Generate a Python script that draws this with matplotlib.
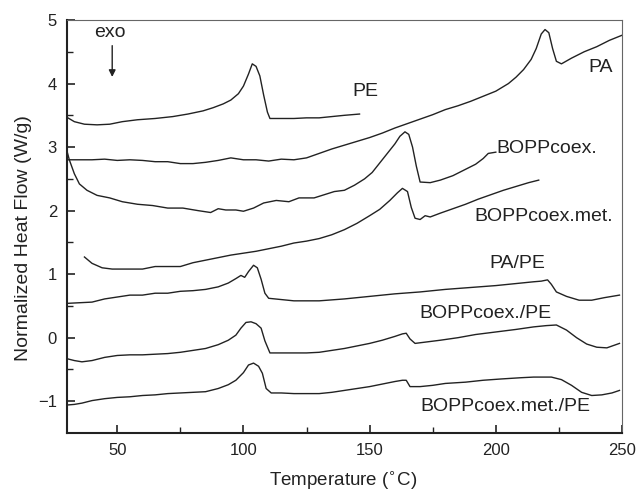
import numpy as np
import matplotlib.pyplot as plt

plt.rcParams['font.family'] = ['Liberation Sans', 'DejaVu Sans']

# DSC traces (temperature in C, heat flow in W/g)
pe_T = [30, 33, 37, 42, 47, 52, 58, 65, 72, 78, 84, 88, 92, 95, 98, 100, 102, 103.5, 105, 106.5, 108, 109.5, 110.5, 115, 120, 125, 130, 135, 140, 146]
pe_y = [3.47, 3.40, 3.36, 3.35, 3.36, 3.40, 3.43, 3.45, 3.48, 3.52, 3.57, 3.62, 3.68, 3.74, 3.84, 3.96, 4.15, 4.31, 4.27, 4.12, 3.82, 3.55, 3.45, 3.45, 3.45, 3.46, 3.46, 3.48, 3.50, 3.52]

pa_T = [30, 35, 40, 45, 50, 55, 60, 65, 70, 75, 80, 85, 90, 95, 100, 105, 110, 115, 120, 125, 130, 135, 140, 145, 150, 155, 160, 165, 170, 175, 180, 185, 190, 195, 200, 205, 208, 211, 214, 216, 218, 219.5, 221, 222.5, 224, 226, 230, 235, 240, 245, 250]
pa_y = [2.80, 2.80, 2.80, 2.81, 2.79, 2.80, 2.79, 2.77, 2.77, 2.74, 2.74, 2.76, 2.79, 2.83, 2.80, 2.80, 2.78, 2.81, 2.80, 2.83, 2.90, 2.97, 3.03, 3.09, 3.15, 3.22, 3.30, 3.37, 3.44, 3.51, 3.59, 3.65, 3.72, 3.80, 3.88, 4.00, 4.10, 4.22, 4.38, 4.55, 4.78, 4.85, 4.80, 4.55, 4.35, 4.31, 4.40, 4.50, 4.58, 4.68, 4.76]

bopp_T = [30, 31, 33, 35, 38, 42, 47, 52, 58, 64, 70, 76, 82, 87, 90, 93, 97, 100, 104, 108, 113, 118, 122, 128, 132, 136, 140, 144, 148, 151, 154, 157, 160, 162, 164, 165.5, 167, 168.5, 170, 174, 178, 183, 188, 192, 195, 197, 200]
bopp_y = [2.95, 2.80, 2.58, 2.42, 2.32, 2.24, 2.20, 2.14, 2.10, 2.08, 2.04, 2.04, 2.00, 1.97, 2.03, 2.01, 2.01, 1.99, 2.04, 2.12, 2.16, 2.14, 2.20, 2.20, 2.25, 2.30, 2.32, 2.40, 2.50, 2.60, 2.75, 2.90, 3.05, 3.17, 3.24, 3.20, 3.00, 2.70, 2.45, 2.44, 2.48, 2.55, 2.65, 2.73, 2.82, 2.90, 2.92]

met_T = [37, 40, 44, 48, 55, 60, 65, 70, 75, 80, 85, 90, 95, 100, 105, 110, 115, 120, 125, 130, 135, 140, 145, 150, 154, 158, 161, 163, 165, 166.5, 168, 170, 172, 174, 178, 183, 188, 193, 198, 203, 208, 213, 217]
met_y = [1.27, 1.17, 1.10, 1.08, 1.08, 1.08, 1.12, 1.12, 1.12, 1.18, 1.22, 1.26, 1.30, 1.33, 1.36, 1.40, 1.44, 1.49, 1.52, 1.56, 1.62, 1.70, 1.80, 1.92, 2.02, 2.16, 2.28, 2.35, 2.30, 2.05, 1.88, 1.86, 1.92, 1.90, 1.96, 2.03, 2.10, 2.18, 2.25, 2.32, 2.38, 2.44, 2.48]

papE_T = [30, 35, 40, 45, 50, 55, 60, 65, 70, 75, 80, 85, 90, 94, 97, 99, 100.5, 102, 104, 105.5, 107, 108.5, 110, 115, 120, 125, 130, 140, 150, 160, 170, 180, 190, 200, 210, 215, 218, 220.5, 222, 224, 228, 233, 238, 243, 249]
papE_y = [0.54, 0.55, 0.56, 0.61, 0.64, 0.67, 0.67, 0.70, 0.70, 0.73, 0.74, 0.76, 0.80, 0.86, 0.93, 0.98, 0.95, 1.04, 1.14, 1.10, 0.92, 0.70, 0.62, 0.60, 0.58, 0.58, 0.58, 0.61, 0.65, 0.69, 0.72, 0.76, 0.79, 0.82, 0.86, 0.88, 0.89, 0.91, 0.84, 0.72, 0.65, 0.59, 0.59, 0.63, 0.67]

bpe_T = [30, 33, 36, 40, 45, 50, 55, 60, 65, 70, 75, 80, 85, 90, 94, 97, 99, 101, 103, 105, 107, 108.5, 110.5, 115, 120, 125, 130, 135, 140, 145, 150, 155, 160, 163, 164.5, 166, 168, 172, 178, 185, 192, 200, 208, 215, 220, 224, 228, 232, 236, 240, 244, 249]
bpe_y = [-0.33, -0.36, -0.38, -0.36, -0.31, -0.28, -0.27, -0.27, -0.26, -0.25, -0.23, -0.20, -0.17, -0.11, -0.04, 0.04, 0.15, 0.24, 0.25, 0.22, 0.15, -0.05, -0.24, -0.24, -0.24, -0.24, -0.23, -0.20, -0.17, -0.13, -0.09, -0.04, 0.02, 0.06, 0.07, -0.02, -0.09, -0.07, -0.04, 0.00, 0.05, 0.09, 0.13, 0.17, 0.19, 0.20, 0.12, 0.00, -0.10, -0.15, -0.16, -0.09]

bmpe_T = [30, 33, 36, 40, 45, 50, 55, 60, 65, 70, 75, 80, 85, 90, 94, 97, 100, 102, 104, 106, 107.5, 109, 111, 115, 120, 125, 130, 135, 140, 145, 150, 155, 160, 163, 164.5, 166, 170, 175, 180, 188, 195, 202, 210, 215, 222, 226, 230, 234, 238, 242, 246, 249]
bmpe_y = [-1.06, -1.05, -1.03, -0.99, -0.96, -0.94, -0.93, -0.91, -0.90, -0.88, -0.87, -0.86, -0.85, -0.80, -0.74, -0.67, -0.55, -0.43, -0.40, -0.45, -0.56, -0.80, -0.87, -0.87, -0.88, -0.88, -0.88, -0.86, -0.83, -0.80, -0.77, -0.73, -0.69, -0.67, -0.67, -0.77, -0.77, -0.75, -0.72, -0.70, -0.67, -0.65, -0.63, -0.62, -0.62, -0.66, -0.75, -0.86, -0.91, -0.90, -0.87, -0.83]

labels = ['PE', 'PA', 'BOPPcoex.', 'BOPPcoex.met.', 'PA/PE', 'BOPPcoex./PE', 'BOPPcoex.met./PE']
label_xy = [(148.5, 3.87), (241.7, 4.26), (220.3, 2.98), (218.9, 1.9), (208.4, 1.17), (196, 0.38), (203.6, -1.09)]

fig = plt.figure(figsize=(6.36, 4.94), dpi=100)
ax = fig.add_axes([0.105, 0.1235, 0.873, 0.836])

for T, y in [(pe_T, pe_y), (pa_T, pa_y), (bopp_T, bopp_y), (met_T, met_y),
             (papE_T, papE_y), (bpe_T, bpe_y), (bmpe_T, bmpe_y)]:
    ax.plot(T, y, color='#222222', lw=1.0)

for lab, (x, y) in zip(labels, label_xy):
    ax.text(x, y, lab, fontsize=14, ha='center', va='center', color='#222222')

# exo arrow
ax.text(47, 4.8, 'exo', fontsize=14, ha='center', va='center', color='#222222')
ax.annotate('', xy=(48, 4.06), xytext=(48, 4.64),
            arrowprops=dict(arrowstyle='-|>', color='#222222', lw=1.0, mutation_scale=10))

ax.set_xlim(30, 250)
ax.set_ylim(-1.5, 5)
ax.set_xticks([50, 100, 150, 200, 250])
ax.set_xticks([75, 125, 175, 225], minor=True)
ax.set_yticks([-1, 0, 1, 2, 3, 4, 5])
ax.set_yticks(np.arange(-0.5, 5, 1.0), minor=True)
ax.tick_params(which='both', direction='in', labelsize=12, colors='#222222', pad=7)
ax.tick_params(which='major', length=6, width=1.2)
ax.tick_params(which='minor', length=4, width=1.0)

for s in ['left', 'bottom']:
    ax.spines[s].set_linewidth(1.5)
    ax.spines[s].set_color('#222222')
for s in ['top', 'right']:
    ax.spines[s].set_linewidth(0.8)
    ax.spines[s].set_color('#666666')

ax.set_xlabel('Temperature ($^{\\circ}$C)', fontsize=13.5, color='#222222')
ax.set_ylabel('Normalized Heat Flow (W/g)', fontsize=14, color='#222222')
ax.xaxis.set_label_coords(0.498, -0.088)
ax.yaxis.set_label_coords(-0.063, 0.472)

fig.savefig('out.png', dpi=100)
